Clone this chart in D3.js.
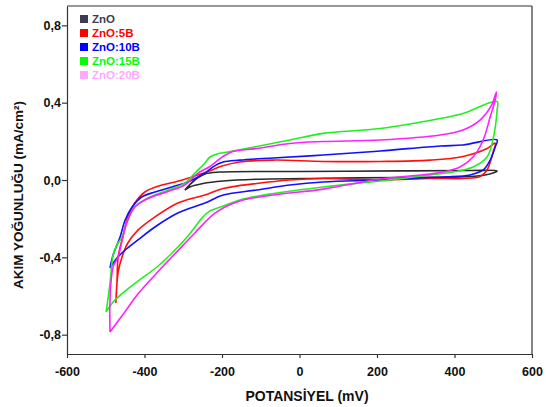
<!DOCTYPE html>
<html>
<head>
<meta charset="utf-8">
<script src="https://cdn.jsdelivr.net/npm/d3@7"></script>
<style>
  html, body { margin: 0; padding: 0; background: #fff; }
  svg { display: block; font-family: Arial, "Liberation Sans", sans-serif; }
</style>
</head>
<body>
<svg id="chart" width="546" height="407"></svg>
<script>
// ---------- data (potential in mV, current density in mA/cm²) ----------
const seriesNames = ["ZnO", "ZnO:5B", "ZnO:10B", "ZnO:15B", "ZnO:20B"];
const legendColors = ["#3d3d52", "#ff0000", "#0000ff", "#00ff00", "#ffaaff"];
const lineColors = ["#2a2a2a", "#ff1010", "#1010ff", "#22ee22", "#ff20ff"];

const xTicks = [-600, -400, -200, 0, 200, 400, 600];
const yTicks = [-0.8, -0.4, 0.0, 0.4, 0.8];

const znoPotential = [-296,-270,-244,-205,0,259,440,510,479,414,259,61,-110,-197,-249,-283];
const znoCurrent   = [-0.052,0.0,0.031,0.041,0.044,0.047,0.049,0.047,0.026,0.016,0.013,0.009,0.004,-0.005,-0.018,-0.036];

const b5Potential = [-474,-471,-468,-456,-443,-425,-399,-355,-321,-277,-239,-200,-154,-68,61,208,337,422,484,505,
                     499,484,466,422,337,208,61,-25,-110,-197,-244,-283,-314,-373,-417,-443,-458,-468];
const b5Current   = [-0.636,-0.528,-0.398,-0.295,-0.191,-0.119,-0.062,-0.026,-0.010,0.016,0.041,0.072,0.093,0.103,0.096,0.096,0.103,0.122,0.163,0.191,
                     0.140,0.052,0.018,0.008,0.008,0.0,0.008,0.0,-0.018,-0.044,-0.078,-0.098,-0.119,-0.191,-0.259,-0.326,-0.398,-0.476];

const b10Potential = [-489,-481,-463,-450,-432,-407,-373,-329,-288,-244,-220,-197,-154,-68,61,208,363,422,510,
                      505,492,474,440,381,337,208,61,-25,-110,-197,-244,-314,-373,-417,-450,-471];
const b10Current   = [-0.455,-0.388,-0.295,-0.207,-0.140,-0.088,-0.062,-0.036,-0.010,0.036,0.072,0.093,0.103,0.114,0.129,0.150,0.176,0.181,0.207,
                      0.171,0.103,0.052,0.026,0.016,0.013,0.0,-0.010,-0.026,-0.052,-0.078,-0.119,-0.171,-0.243,-0.310,-0.362,-0.404];

const b15Potential = [-499,-489,-481,-471,-458,-445,-425,-391,-339,-296,-270,-244,-231,-213,-179,-110,-25,61,208,363,422,510,
                      510,499,484,448,396,337,208,61,-68,-154,-197,-231,-249,-290,-334,-368,-437,-481];
const b15Current   = [-0.683,-0.533,-0.388,-0.336,-0.295,-0.217,-0.140,-0.093,-0.052,-0.016,0.036,0.088,0.119,0.135,0.147,0.173,0.207,0.241,0.266,0.318,0.344,0.406,
                      0.362,0.207,0.119,0.067,0.041,0.026,-0.005,-0.036,-0.070,-0.103,-0.135,-0.160,-0.191,-0.295,-0.388,-0.450,-0.554,-0.631];

const b20Potential = [-489,-489,-481,-468,-456,-443,-425,-391,-339,-296,-262,-231,-197,-172,-110,-25,61,208,363,422,466,496,508,
                      505,492,474,448,414,370,337,208,61,-68,-154,-218,-270,-322,-373,-417,-452];
const b20Current   = [-0.786,-0.621,-0.450,-0.398,-0.295,-0.207,-0.140,-0.096,-0.059,-0.026,0.036,0.070,0.122,0.147,0.163,0.189,0.199,0.207,0.233,0.259,0.310,0.388,0.455,
                      0.414,0.326,0.207,0.119,0.067,0.041,0.031,0.005,-0.047,-0.078,-0.109,-0.171,-0.274,-0.383,-0.491,-0.590,-0.686];

const potentials = [znoPotential, b5Potential, b10Potential, b15Potential, b20Potential];
const currents   = [znoCurrent, b5Current, b10Current, b15Current, b20Current];

// ---------- chart ----------
const svg = d3.select("#chart");
const x = d3.scaleLinear().domain([-600, 600]).range([67, 532]);
const y = d3.scaleLinear().domain([-0.9, 0.9]).range([354, 6]);

const axisColor = "#333";
const tickFont = "12.5px";

// frame (top and right)
svg.append("line").attr("x1", x(-600)).attr("x2", x(600)).attr("y1", y(0.9)).attr("y2", y(0.9))
  .attr("stroke", axisColor).attr("stroke-width", 1.2);
svg.append("line").attr("x1", x(600)).attr("x2", x(600)).attr("y1", y(0.9)).attr("y2", y(-0.9))
  .attr("stroke", axisColor).attr("stroke-width", 1.2);

const xAxis = svg.append("g").attr("transform", `translate(0,${y(-0.9)})`)
  .call(d3.axisBottom(x).tickValues(xTicks).tickSize(4).tickSizeOuter(0).tickPadding(9)
    .tickFormat(d => String(d)));
const yAxis = svg.append("g").attr("transform", `translate(${x(-600)},0)`)
  .call(d3.axisLeft(y).tickValues(yTicks).tickSize(5).tickSizeOuter(0).tickPadding(1)
    .tickFormat(d => d.toFixed(1).replace(".", ",")));

[xAxis, yAxis].forEach(g => {
  g.select(".domain").attr("stroke", axisColor).attr("stroke-width", 1.2);
  g.selectAll(".tick line").attr("stroke", axisColor).attr("stroke-width", 1.2);
  g.selectAll(".tick text").attr("fill", "#111").style("font-size", tickFont)
    .style("font-weight", "bold").style("font-family", "Arial, 'Liberation Sans', sans-serif");
});

// curves
const line = d3.line()
  .x(d => x(d[0]))
  .y(d => y(d[1]))
  .curve(d3.curveCatmullRom.alpha(0.5));

potentials.forEach((pv, i) => {
  const pts = pv.map((p, k) => [p, currents[i][k]]);
  pts.push(pts[0]);
  svg.append("path")
    .datum(pts)
    .attr("d", line)
    .attr("fill", "none")
    .attr("stroke", lineColors[i])
    .attr("stroke-width", 1.6)
    .attr("stroke-linejoin", "round");
});

// legend
const legend = svg.append("g");
seriesNames.forEach((name, i) => {
  legend.append("rect").attr("x", 80).attr("y", 15 + i * 14).attr("width", 8).attr("height", 8)
    .attr("fill", legendColors[i]);
  legend.append("text").attr("x", 92).attr("y", 23 + i * 14).text(name)
    .attr("fill", legendColors[i]).style("font-size", "11.5px").style("font-weight", "bold");
});

// axis titles
svg.append("text").attr("x", 307).attr("y", 401).attr("text-anchor", "middle")
  .style("font-size", "14px").style("font-weight", "bold").attr("fill", "#111")
  .text("POTANSİYEL (mV)");
svg.append("text").attr("transform", "translate(23,195) rotate(-90)").attr("text-anchor", "middle")
  .style("font-size", "13.5px").style("font-weight", "bold").attr("fill", "#111")
  .text("AKIM YOĞUNLUĞU (mA/cm²)");
</script>
</body>
</html>
